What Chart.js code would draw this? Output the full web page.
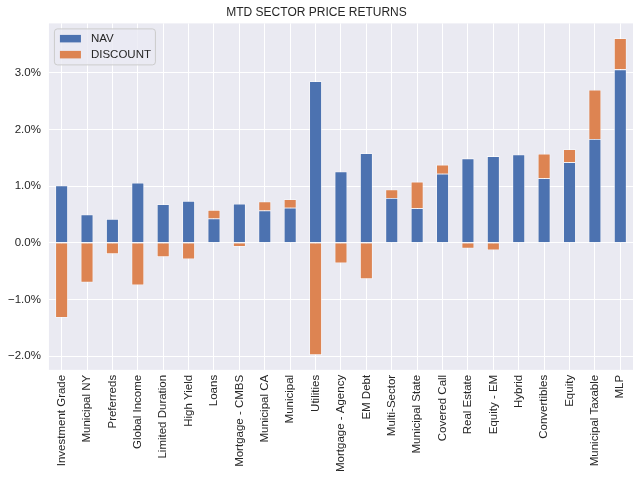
<!DOCTYPE html>
<html>
<head>
<meta charset="utf-8">
<script src="https://cdn.jsdelivr.net/npm/chart.js@4.4.1/dist/chart.umd.min.js"></script>
<style>
  html, body { margin: 0; padding: 0; background: #fff; }
  #wrap { width: 640px; height: 484px; }
</style>
</head>
<body>
<div id="wrap"><canvas id="myChart" width="640" height="484"></canvas></div>
<script>
var sectors = ["Investment Grade", "Municipal NY", "Preferreds", "Global Income", "Limited Duration",
  "High Yield", "Loans", "Mortgage - CMBS", "Municipal CA", "Municipal", "Utilities",
  "Mortgage - Agency", "EM Debt", "Multi-Sector", "Municipal State", "Covered Call",
  "Real Estate", "Equity - EM", "Hybrid", "Convertibles", "Equity", "Municipal Taxable", "MLP"];

var navReturns = [1.01, 0.50, 0.42, 1.06, 0.68, 0.74, 0.43, 0.69, 0.57, 0.62, 2.85,
  1.26, 1.58, 0.79, 0.61, 1.22, 1.49, 1.53, 1.56, 1.14, 1.42, 1.83, 3.06];

var discountReturns = [-1.32, -0.70, -0.20, -0.75, -0.25, -0.29, 0.15, -0.07, 0.16, 0.15, -1.98,
  -0.36, -0.64, 0.15, 0.47, 0.16, -0.10, -0.13, 0.0, 0.43, 0.23, 0.87, 0.55];

var yTicks = [-2, -1, 0, 1, 2, 3];

var textColor = '#262626';
var fontName = '"Liberation Sans", Arial, sans-serif';

// grey plot background, seaborn style
var bgPlugin = {
  id: 'plotBg',
  beforeDraw: function(chart) {
    var a = chart.chartArea, c = chart.ctx;
    c.save();
    c.fillStyle = '#EAEAF2';
    c.fillRect(a.left, a.top, a.right - a.left, a.bottom - a.top);
    c.restore();
  }
};

// legend drawn inside the axes, top left
var innerLegend = {
  id: 'innerLegend',
  afterDraw: function(chart) {
    var a = chart.chartArea, c = chart.ctx;
    var x = a.left + 5, y = a.top + 5, w = 101, h = 36;
    c.save();
    c.fillStyle = 'rgba(234,234,242,0.8)';
    c.strokeStyle = '#CCCCCC';
    c.lineWidth = 1;
    c.beginPath();
    c.roundRect(x + 0.5, y + 0.5, w, h, 3);
    c.fill();
    c.stroke();
    c.font = '11.5px ' + fontName;
    c.textBaseline = 'middle';
    chart.data.datasets.forEach(function(ds, i) {
      var ry = y + 10 + i * 16;
      c.fillStyle = ds.backgroundColor;
      c.fillRect(x + 6, ry - 3.5, 21, 7.5);
      c.fillStyle = textColor;
      c.fillText(ds.label, x + 37, ry);
    });
    c.restore();
  }
};

new Chart(document.getElementById('myChart'), {
  type: 'bar',
  data: {
    labels: sectors,
    datasets: [
      { label: 'NAV', data: navReturns, backgroundColor: '#4C72B0',
        borderColor: 'rgba(255,255,255,0.7)', borderWidth: 0.8,
        categoryPercentage: 1.0, barPercentage: 0.5 },
      { label: 'DISCOUNT', data: discountReturns, backgroundColor: '#DD8452',
        borderColor: 'rgba(255,255,255,0.7)', borderWidth: 0.8,
        categoryPercentage: 1.0, barPercentage: 0.5 }
    ]
  },
  plugins: [bgPlugin, innerLegend],
  options: {
    responsive: false,
    animation: false,
    layout: { padding: { left: 0, right: 7, top: 0, bottom: 7 } },
    plugins: {
      legend: { display: false },
      tooltip: { enabled: false },
      title: {
        display: true,
        text: 'MTD SECTOR PRICE RETURNS',
        color: textColor,
        font: { family: fontName, size: 12, weight: 'normal' },
        padding: { top: 5, bottom: 4 }
      }
    },
    scales: {
      x: {
        stacked: true,
        grid: { color: '#FFFFFF', lineWidth: 1, offset: false, drawTicks: false },
        border: { display: false },
        ticks: {
          color: textColor,
          font: { family: fontName, size: 11.5 },
          minRotation: 90, maxRotation: 90,
          autoSkip: false,
          padding: 5
        }
      },
      y: {
        stacked: true,
        min: -2.24,
        max: 3.87,
        afterBuildTicks: function(axis) {
          axis.ticks = yTicks.map(function(v) { return { value: v }; });
        },
        grid: { color: '#FFFFFF', lineWidth: 1, drawTicks: false },
        border: { display: false },
        ticks: {
          color: textColor,
          font: { family: fontName, size: 11.5 },
          padding: 8,
          callback: function(v) {
            return (v < 0 ? '\u2212' : '') + Math.abs(v).toFixed(1) + '%';
          }
        }
      }
    }
  }
});
</script>
</body>
</html>
